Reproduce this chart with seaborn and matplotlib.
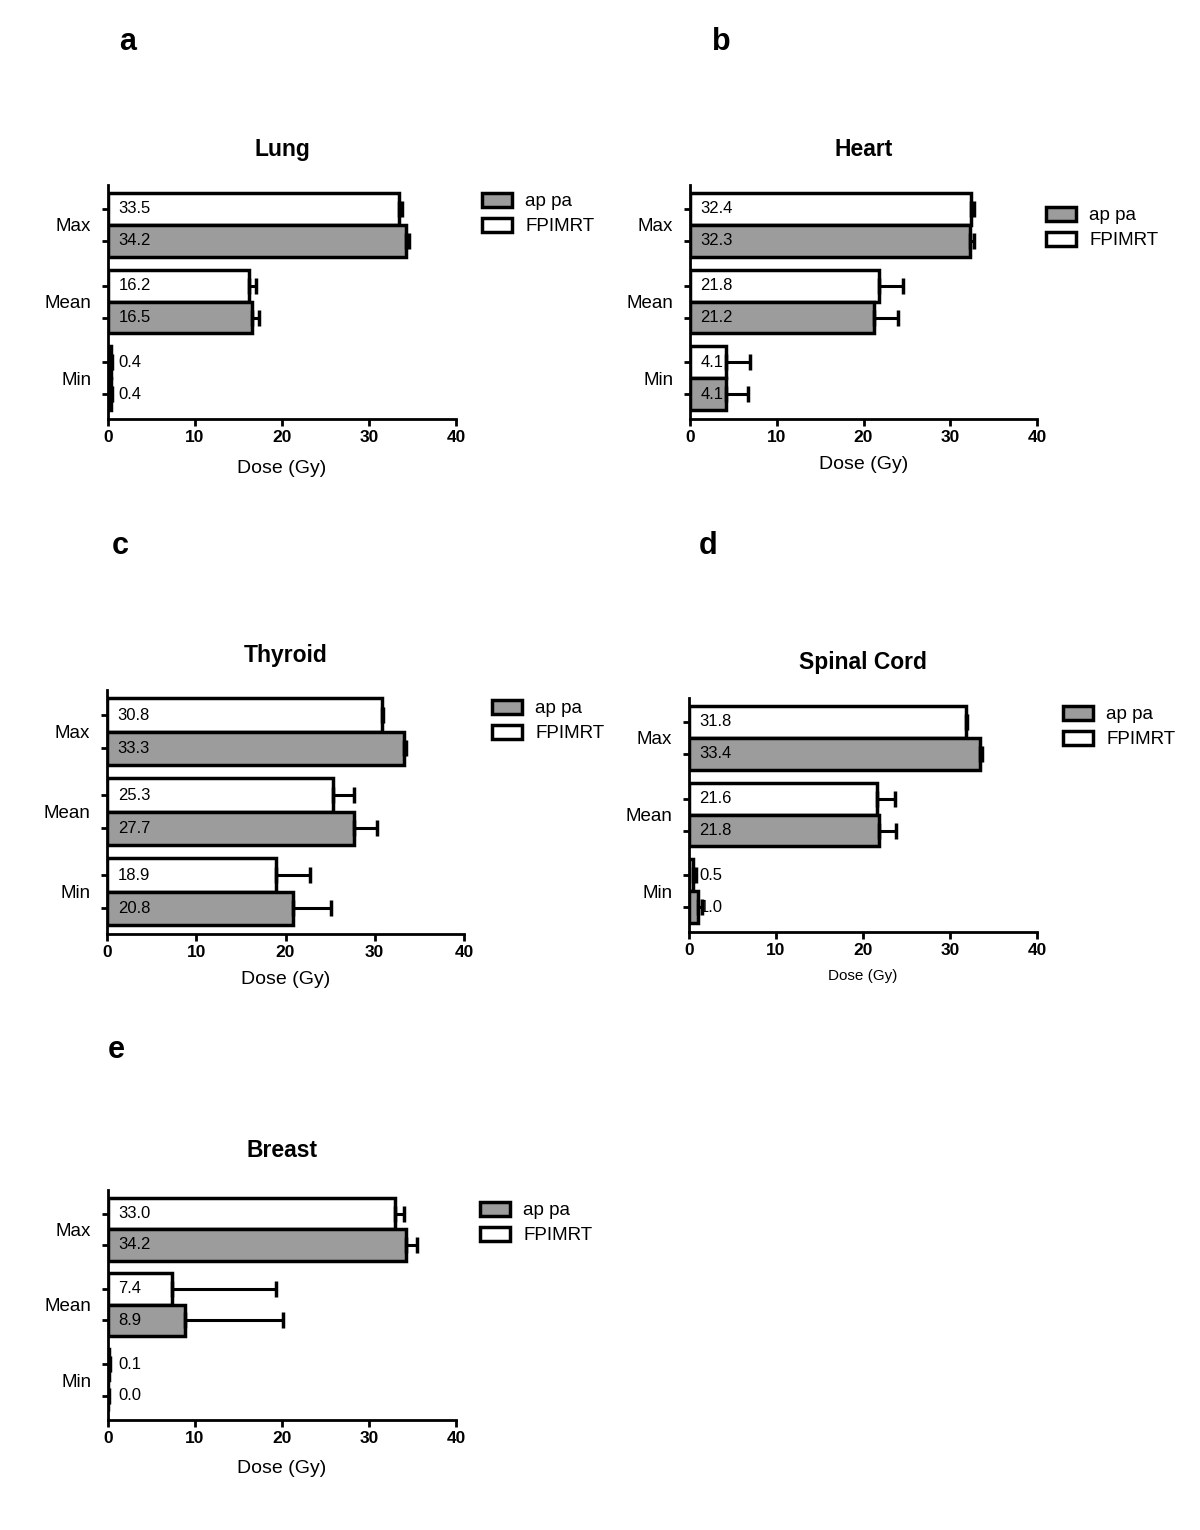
import numpy as np
import pandas as pd
import seaborn as sns
import matplotlib.pyplot as plt
from matplotlib.patches import Patch

# Dose statistics per organ (Gy); upper error bar = SD
categories = ["Max", "Mean", "Min"]
plans = ["FPIMRT", "ap pa"]

lung_appa = [34.2, 16.5, 0.4]
lung_appa_sd = [0.45, 0.8, 0.1]
lung_fp = [33.5, 16.2, 0.4]
lung_fp_sd = [0.35, 0.85, 0.1]

heart_appa = [32.3, 21.2, 4.1]
heart_appa_sd = [0.4, 2.8, 2.6]
heart_fp = [32.4, 21.8, 4.1]
heart_fp_sd = [0.3, 2.7, 2.8]

thyroid_appa = [33.3, 27.7, 20.8]
thyroid_appa_sd = [0.2, 2.5, 4.3]
thyroid_fp = [30.8, 25.3, 18.9]
thyroid_fp_sd = [0.15, 2.4, 3.9]

spinal_appa = [33.4, 21.8, 1.0]
spinal_appa_sd = [0.3, 2.0, 0.5]
spinal_fp = [31.8, 21.6, 0.5]
spinal_fp_sd = [0.2, 2.1, 0.3]

breast_appa = [34.2, 8.9, 0.0]
breast_appa_sd = [1.3, 11.2, 0.1]
breast_fp = [33.0, 7.4, 0.1]
breast_fp_sd = [1.0, 11.9, 0.1]

sns.set_style("ticks")
plt.rcParams["font.family"] = ["Liberation Sans", "DejaVu Sans"]
for key in ["text.color", "axes.labelcolor", "xtick.color", "ytick.color", "axes.edgecolor"]:
    plt.rcParams[key] = "black"

GRAY = "#9c9c9c"
W, H = 1200, 1530
fig = plt.figure(figsize=(12, 15.3), dpi=100)


def px_axes(left, right, top, bottom):
    return fig.add_axes([left / W, 1 - bottom / H, (right - left) / W, (bottom - top) / H])


def panel(ax, title, appa, appa_sd, fp, fp_sd, leg_x, leg_y, title_pad,
          xlab_size=14, xlab_pad=8):
    df = pd.DataFrame({
        "stat": categories * 2,
        "plan": ["FPIMRT"] * 3 + ["ap pa"] * 3,
        "dose": fp + appa,
    })
    sd = {"FPIMRT": fp_sd, "ap pa": appa_sd}
    vals = {"FPIMRT": fp, "ap pa": appa}
    sns.barplot(data=df, y="stat", x="dose", hue="plan", hue_order=plans,
                order=categories, palette={"FPIMRT": "white", "ap pa": GRAY},
                edgecolor="black", linewidth=2.5, width=0.83, errorbar=None,
                orient="h", legend=False, ax=ax)

    centers = []
    for p in ax.patches:
        yc = p.get_y() + p.get_height() / 2
        i = int(round(yc))
        plan = "FPIMRT" if yc < i else "ap pa"
        centers.append(yc)
        ax.errorbar(p.get_width(), yc, xerr=[[0], [sd[plan][i]]], fmt="none",
                    ecolor="black", elinewidth=2.2, capsize=6, capthick=2.5)
        ax.text(1.2, yc, f"{vals[plan][i]:.1f}", va="center", ha="left", fontsize=12)

    ax.set_xlim(0, 40)
    ax.set_xticks([0, 10, 20, 30, 40])
    ax.set_ylim(2.53, -0.52)
    ax.set_yticks(range(3))
    ax.set_yticklabels(categories, fontsize=13.5)
    ax.set_yticks(centers, minor=True)
    ax.tick_params(axis="y", which="major", length=0, pad=12)
    ax.tick_params(axis="y", which="minor", length=4, width=2)
    ax.tick_params(axis="x", length=5, width=2, labelsize=12.5, pad=3)
    for lab in ax.get_xticklabels():
        lab.set_fontweight("bold")
    ax.set_ylabel("")
    ax.set_xlabel("Dose (Gy)", fontsize=xlab_size, labelpad=xlab_pad)
    ax.set_title(title, fontsize=16.5, fontweight="bold", pad=title_pad)
    sns.despine(ax=ax)
    for s in ["left", "bottom"]:
        ax.spines[s].set_linewidth(2)

    handles = [Patch(facecolor=GRAY, edgecolor="black", linewidth=2.5, label="ap pa"),
               Patch(facecolor="white", edgecolor="black", linewidth=2.5, label="FPIMRT")]
    ax.legend(handles=handles, loc="center left", bbox_to_anchor=(leg_x / W, 1 - leg_y / H),
              bbox_transform=fig.transFigure, frameon=False, fontsize=13.5,
              handlelength=1.6, handleheight=0.8, handletextpad=0.7,
              labelspacing=0.4, borderpad=0, borderaxespad=0)


ax_a = px_axes(108, 456, 185, 419)
panel(ax_a, "Lung", lung_appa, lung_appa_sd, lung_fp, lung_fp_sd, 482, 214, 21, xlab_pad=11)

ax_b = px_axes(690, 1037, 185, 419)
panel(ax_b, "Heart", heart_appa, heart_appa_sd, heart_fp, heart_fp_sd, 1046, 228, 21)

ax_c = px_axes(107, 464, 690, 934)
panel(ax_c, "Thyroid", thyroid_appa, thyroid_appa_sd, thyroid_fp, thyroid_fp_sd, 492, 721, 20)

ax_d = px_axes(689, 1037, 698, 932)
panel(ax_d, "Spinal Cord", spinal_appa, spinal_appa_sd, spinal_fp, spinal_fp_sd, 1063, 727, 21,
      xlab_size=11)

ax_e = px_axes(108, 456, 1190, 1420)
panel(ax_e, "Breast", breast_appa, breast_appa_sd, breast_fp, breast_fp_sd, 480, 1223, 24,
      xlab_pad=10)

for letter, x, y in [("a", 128, 42), ("b", 721, 42), ("c", 120, 546),
                     ("d", 708, 546), ("e", 116, 1050)]:
    fig.text(x / W, 1 - y / H, letter, fontsize=22, fontweight="bold",
             ha="center", va="center")

fig.savefig("out.png", dpi=100, facecolor="white")
